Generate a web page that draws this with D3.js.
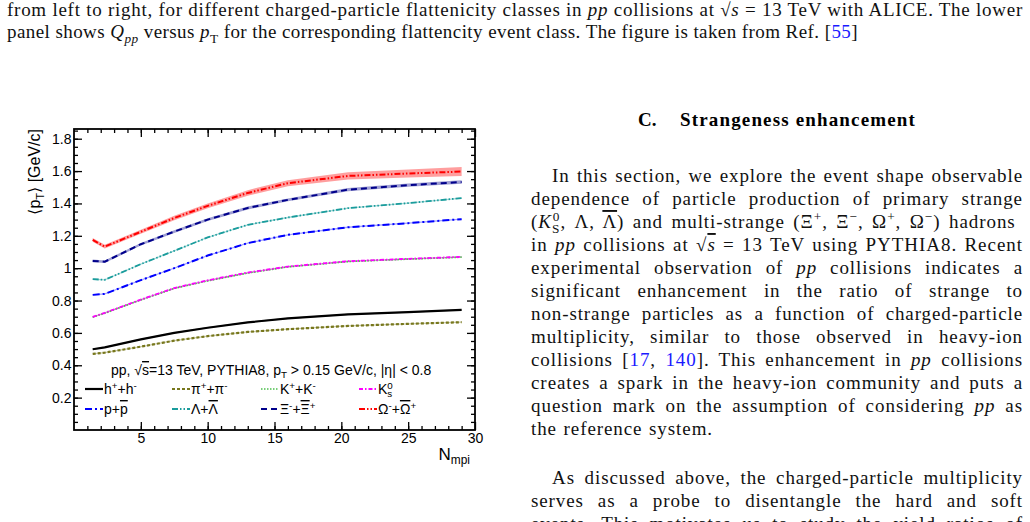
<!DOCTYPE html>
<html>
<head>
<meta charset="utf-8">
<script src="https://cdnjs.cloudflare.com/ajax/libs/d3/7.8.5/d3.min.js"></script>
<style>
body { margin: 0; background: #fff; }
svg { display: block; }
text { white-space: pre; }
</style>
</head>
<body>
<div id="page"></div>
<script>
var w = 1030;
var h = 522;

// <pT> vs Nmpi
var nmpi      = [1.4, 2.3, 5, 7.5, 10, 13, 16, 20.5, 25, 29];
var hadrons   = [0.499, 0.511, 0.560, 0.600, 0.632, 0.665, 0.690, 0.715, 0.728, 0.742];
var pions     = [0.470, 0.478, 0.515, 0.552, 0.580, 0.606, 0.623, 0.643, 0.656, 0.666];
var kaons     = [0.697, 0.722, 0.804, 0.875, 0.922, 0.970, 1.008, 1.041, 1.056, 1.068];
var k0s       = [0.699, 0.724, 0.806, 0.877, 0.925, 0.973, 1.010, 1.043, 1.058, 1.070];
var protons   = [0.835, 0.841, 0.926, 1.000, 1.078, 1.155, 1.206, 1.253, 1.278, 1.303];
var lambdas   = [0.932, 0.928, 1.025, 1.107, 1.190, 1.268, 1.313, 1.371, 1.402, 1.433];
var xis       = [1.045, 1.040, 1.148, 1.226, 1.300, 1.372, 1.422, 1.485, 1.513, 1.532];
var omegas    = [1.175, 1.133, 1.225, 1.310, 1.385, 1.465, 1.525, 1.570, 1.585, 1.597];
var smallErr  = [0.004, 0.004, 0.004, 0.004, 0.004, 0.004, 0.004, 0.004, 0.004, 0.004];
var xiErr     = [0.008, 0.008, 0.008, 0.008, 0.008, 0.009, 0.009, 0.010, 0.010, 0.011];
var omegaErr  = [0.012, 0.012, 0.013, 0.014, 0.015, 0.017, 0.019, 0.022, 0.025, 0.028];

var labels = ["h^{+}+h^{-}", "π^{+}+π^{-}", "K^{+}+K^{-}", "K_{s}^{0}",
              "p+#bar{p}", "Λ+#bar{Λ}", "Ξ^{-}+#bar{Ξ}^{+}", "Ω^{-}+#bar{Ω}^{+}"];
var xTicks = [5, 10, 15, 20, 25, 30];
var yTicks = [0.2, 0.4, 0.6, 0.8, 1, 1.2, 1.4, 1.6, 1.8];

var series = [
    {values: hadrons, err: smallErr, color: "#000000", dash: null, width: 2.2},
    {values: pions, err: smallErr, color: "#77771c", dash: "3,2", width: 2.2},
    {values: kaons, err: smallErr, color: "#4cbf4c", dash: "1.5,1.5", width: 1.7},
    {values: k0s, err: smallErr, color: "#ff00ff", dash: "4,2,1.5,2", width: 1.8},
    {values: protons, err: smallErr, color: "#0000ff", dash: "7,3,2,3", width: 2},
    {values: lambdas, err: smallErr, color: "#1a9c9c", dash: "6,2,1.5,2,1.5,2", width: 1.8},
    {values: xis, err: xiErr, color: "#00008b", dash: "6,4", width: 2},
    {values: omegas, err: omegaErr, color: "#ff0000", dash: "6,2,1.5,2,1.5,2", width: 2}
];
series.forEach(function(s, i) { s.label = labels[i]; });

// page text
var captionLines = [
    {x: 7, x2: 1023, y: 16, s: "from left to right, for different charged-particle flattenicity classes in *pp* collisions at #sqrt{*s*} = 13 TeV with ALICE. The lower"},
    {x: 7, x2: 858, y: 38, s: "panel shows *Q*_{*pp*} versus *p*_{T} for the corresponding flattencity event class. The figure is taken from Ref. [@55@]"}
];
var bodyLines = [
    {x: 552, x2: 1023, y: 182, s: "In this section, we explore the event shape observable"},
    {x: 531, x2: 1023, y: 205, s: "dependence of particle production of primary strange"},
    {x: 531, x2: 1023, y: 228, s: "(*K*_{S}^{0}, Λ, #bar{Λ}) and multi-strange (Ξ^{+}, Ξ^{−}, Ω^{+}, Ω^{−}) hadrons"},
    {x: 531, x2: 1023, y: 251, s: "in *pp* collisions at #sqrt{*s*} = 13 TeV using PYTHIA8. Recent"},
    {x: 531, x2: 1023, y: 274, s: "experimental observation of *pp* collisions indicates a"},
    {x: 531, x2: 1023, y: 297, s: "significant enhancement in the ratio of strange to"},
    {x: 531, x2: 1023, y: 320, s: "non-strange particles as a function of charged-particle"},
    {x: 531, x2: 1023, y: 343, s: "multiplicity, similar to those observed in heavy-ion"},
    {x: 531, x2: 1023, y: 366, s: "collisions [@17@, @140@]. This enhancement in *pp* collisions"},
    {x: 531, x2: 1023, y: 389, s: "creates a spark in the heavy-ion community and puts a"},
    {x: 531, x2: 1023, y: 412, s: "question mark on the assumption of considering *pp* as"},
    {x: 531, x2: 713, y: 435, s: "the reference system."},
    {x: 552, x2: 1023, y: 484, s: "As discussed above, the charged-particle multiplicity"},
    {x: 531, x2: 1023, y: 507, s: "serves as a probe to disentangle the hard and soft"},
    {x: 531, x2: 1023, y: 530, s: "events. This motivates us to study the yield ratios of"}
];

var svg = d3.select("#page")
    .append("svg")
    .attr("width", w)
    .attr("height", h)
    .style("background-color", "white");

// tiny markup: ^{} sup, _{} sub, #bar{}, #sqrt{}, *italic*, @link@
function rich(sel, str, fs) {
    var re = /\^\{([^}]*)\}|_\{([^}]*)\}|#bar\{([^}]*)\}|#sqrt\{([^}]*)\}|\*([^*]+)\*|@([^@]+)@|([^\^_#*@]+|[\^_#*@])/g;
    var shift = 0, prev = null, prevType = null, m, c;
    function add(txt, type, italic, over, color) {
        var target = type === "sup" ? -0.38 * fs : type === "sub" ? 0.24 * fs : 0;
        var t = sel.append("tspan").text(txt);
        if (target - shift) t.attr("dy", target - shift);
        shift = target;
        if (type !== "n") t.attr("font-size", fs * 0.7);
        if (italic) t.attr("font-style", "italic");
        if (over) t.style("text-decoration", "overline");
        if (color) t.attr("fill", color);
        if (type === "sup" && prevType === "sub") t.attr("dx", -prev.node().getComputedTextLength());
        prev = t; prevType = type;
    }
    function inner(s) {
        var it = /^\*.*\*$/.test(s);
        return {t: it ? s.slice(1, -1) : s, it: it};
    }
    while ((m = re.exec(str)) !== null) {
        if (m[1] != null) { c = inner(m[1]); add(c.t, "sup", c.it); }
        else if (m[2] != null) { c = inner(m[2]); add(c.t, "sub", c.it); }
        else if (m[3] != null) { c = inner(m[3]); add(c.t, "n", c.it, true); }
        else if (m[4] != null) { add("√", "n"); c = inner(m[4]); add(c.t, "n", c.it, true); }
        else if (m[5] != null) add(m[5], "n", true);
        else if (m[6] != null) add(m[6], "n", false, false, "#1a1aff");
        else add(m[7], "n");
    }
}

// stretch a line to a given width: some letter spacing (the reference font is wider), rest between words
function justify(sel, width, widen) {
    var node = sel.node();
    var len = node.getComputedTextLength();
    var txt = node.textContent;
    var n = (txt.match(/ /g) || []).length;
    var extra = width - len;
    var ls = Math.max(0, Math.min(extra, len * widen)) / txt.length;
    sel.attr("letter-spacing", ls);
    var rest = extra - ls * txt.length;
    if (n > 0) sel.style("word-spacing", (rest / n) + "px");
}

function paraLine(d) {
    var t = svg.append("text")
        .attr("x", d.x)
        .attr("y", d.y)
        .attr("font-family", "'Liberation Serif', 'Times New Roman', serif")
        .attr("font-size", 19)
        .attr("fill", "#111");
    rich(t, d.s, 19);
    justify(t, d.x2 - d.x, 0.12);
}
captionLines.forEach(paraLine);
bodyLines.forEach(paraLine);

// section heading
svg.append("text")
    .attr("x", 638).attr("y", 126)
    .attr("font-family", "'Liberation Serif', serif")
    .attr("font-size", 19).attr("font-weight", "bold")
    .text("C.");
var head = svg.append("text")
    .attr("x", 680).attr("y", 126)
    .attr("font-family", "'Liberation Serif', serif")
    .attr("font-size", 19).attr("font-weight", "bold")
    .text("Strangeness enhancement");
justify(head, 236, 0.3);

// ---- the plot ----
var sans = "'Liberation Sans', Arial, Helvetica, sans-serif";
var x = d3.scaleLinear().domain([0, 30]).range([74, 475]);
var y = d3.scaleLinear().domain([0, 1.86]).range([430, 129]);

var g = svg.append("g");

var area = d3.area()
    .x(function(d, i) { return x(nmpi[i]); })
    .y0(function(d) { return y(d[0] - d[1]); })
    .y1(function(d) { return y(d[0] + d[1]); });
var line = d3.line()
    .x(function(d, i) { return x(nmpi[i]); })
    .y(function(d) { return y(d); });

series.forEach(function(s) {
    g.append("path")
        .datum(s.values.map(function(v, i) { return [v, s.err[i]]; }))
        .attr("d", area)
        .attr("fill", s.color)
        .attr("fill-opacity", 0.38);
});
series.forEach(function(s) {
    g.append("path")
        .datum(s.values)
        .attr("d", line)
        .attr("fill", "none")
        .attr("stroke", s.color)
        .attr("stroke-width", s.width)
        .attr("stroke-dasharray", s.dash);
});

var xMinor = d3.range(1, 30);
var yMinor = d3.range(1, 38).map(function(i) { return i * 0.05; });

function styleAxis(sel) {
    sel.select(".domain").remove();
    sel.selectAll("line").attr("stroke", "#000").attr("stroke-width", 1.3);
    sel.selectAll("text").attr("font-family", sans).attr("font-size", 14).attr("fill", "#000");
}

g.append("g").attr("transform", "translate(0,430)")
    .call(d3.axisBottom(x).tickValues(xTicks).tickSize(-8).tickSizeOuter(0).tickPadding(3))
    .call(styleAxis);
g.append("g").attr("transform", "translate(0,430)")
    .call(d3.axisBottom(x).tickValues(xMinor).tickSize(-4).tickSizeOuter(0).tickFormat(""))
    .call(styleAxis);
g.append("g").attr("transform", "translate(0,129)")
    .call(d3.axisTop(x).tickValues(xTicks).tickSize(-8).tickSizeOuter(0).tickFormat(""))
    .call(styleAxis);
g.append("g").attr("transform", "translate(0,129)")
    .call(d3.axisTop(x).tickValues(xMinor).tickSize(-4).tickSizeOuter(0).tickFormat(""))
    .call(styleAxis);

g.append("g").attr("transform", "translate(74,0)")
    .call(d3.axisLeft(y).tickValues(yTicks).tickSize(-8).tickSizeOuter(0).tickPadding(2.5).tickFormat(d3.format("~g")))
    .call(styleAxis);
g.append("g").attr("transform", "translate(74,0)")
    .call(d3.axisLeft(y).tickValues(yMinor).tickSize(-4).tickSizeOuter(0).tickFormat(""))
    .call(styleAxis);
g.append("g").attr("transform", "translate(475,0)")
    .call(d3.axisRight(y).tickValues(yTicks).tickSize(-8).tickSizeOuter(0).tickFormat(""))
    .call(styleAxis);
g.append("g").attr("transform", "translate(475,0)")
    .call(d3.axisRight(y).tickValues(yMinor).tickSize(-4).tickSizeOuter(0).tickFormat(""))
    .call(styleAxis);

g.append("rect")
    .attr("x", 74).attr("y", 129)
    .attr("width", 401).attr("height", 301)
    .attr("fill", "none")
    .attr("stroke", "#000")
    .attr("stroke-width", 1.8);

// axis titles
var yt = g.append("text")
    .attr("transform", "translate(40,129) rotate(-90)")
    .attr("text-anchor", "end")
    .attr("font-family", sans)
    .attr("font-size", 16);
rich(yt, "⟨p_{T}⟩ [GeV/c]", 16);

var xt = g.append("text")
    .attr("x", 470).attr("y", 460)
    .attr("text-anchor", "end")
    .attr("font-family", sans)
    .attr("font-size", 17);
rich(xt, "N_{mpi}", 17);

// legend
var lh = g.append("text")
    .attr("x", 111).attr("y", 375)
    .attr("font-family", sans)
    .attr("font-size", 14);
rich(lh, "pp, #sqrt{s}=13 TeV, PYTHIA8, p_{T} > 0.15 GeV/c, |η| < 0.8", 14);

var colX = [85, 172, 261, 359];
var rowY = [389, 409];
series.forEach(function(s, i) {
    var cx = colX[i % 4];
    var cy = rowY[Math.floor(i / 4)];
    g.append("line")
        .attr("x1", cx).attr("x2", cx + 18)
        .attr("y1", cy).attr("y2", cy)
        .attr("stroke", s.color)
        .attr("stroke-width", s.width)
        .attr("stroke-dasharray", s.dash);
    var t = g.append("text")
        .attr("x", cx + 19).attr("y", cy + 5)
        .attr("font-family", sans)
        .attr("font-size", 14);
    rich(t, s.label, 14);
});
</script>
</body>
</html>
